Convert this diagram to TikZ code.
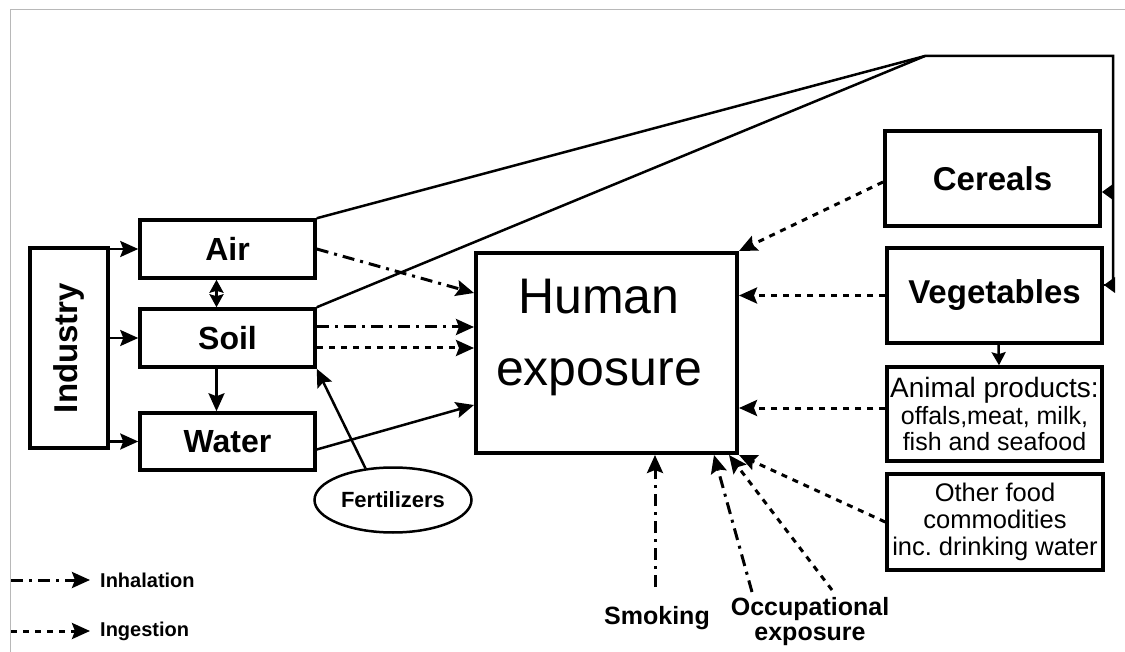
\documentclass[tikz,border=0pt]{standalone}
\usepackage{fontspec}
\setmainfont{Liberation Sans}
\usetikzlibrary{arrows.meta,shapes.geometric,calc}
\frenchspacing
\begin{document}
\begin{tikzpicture}[x=1pt,y=-1pt,
  >={Stealth[length=18pt,width=16pt,inset=3pt]},
  box/.style={draw, line width=3.5pt, inner sep=0pt, align=center},
  bigfont/.style={font=\bfseries\fontsize{33}{33}\selectfont},
  midfont/.style={font=\bfseries\fontsize{32}{32}\selectfont},
  conn/.style={line width=2.5pt, ->},
  plainline/.style={line width=2.5pt},
  inh/.style={line width=3pt, dash pattern=on 12pt off 6pt on 3pt off 6pt, ->},
  ing/.style={line width=3pt, dash pattern=on 6pt off 6pt, ->},
  headfill/.style={fill=black},
  frame/.style={draw=black!28, line width=1.5pt},
  lbl/.style={font=\bfseries\fontsize{25}{25}\selectfont, align=center, inner sep=0pt},
  leg/.style={font=\bfseries\fontsize{20}{20}\selectfont, inner sep=0pt, anchor=west}]
\useasboundingbox (0,0) rectangle (1125,652);
\fill[white] (0,0) rectangle (1125,652);
\draw[frame] (10.5,652) -- (10.5,9.5) -- (1125,9.5);

% left boxes
\node[box, bigfont, minimum width=78pt, minimum height=200pt] (Industry) at (69,348) {\rotatebox{90}{Industry}};
\node[box, midfont, minimum width=175pt, minimum height=58pt] (Air) at (227.5,249) {Air};
\node[box, midfont, minimum width=175pt, minimum height=58pt] (Soil) at (227.5,338) {Soil};
\node[box, midfont, minimum width=175pt, minimum height=57pt] (Water) at (227.5,441.5) {Water};

% centre
\node[box, line width=4pt, minimum width=261pt, minimum height=200pt] (Human) at (606.5,353) {};
\node[font=\fontsize{50}{72}\selectfont, align=center, inner sep=0pt] (HumanText) at (599,337) {Human\\exposure};

% right boxes
\node[box, bigfont, line width=4pt, minimum width=215pt, minimum height=95pt] (Cereals) at (992.5,179) {Cereals};
\node[box, bigfont, line width=4pt, minimum width=215pt, minimum height=95pt] (Vegetables) at (994.5,295.5) {Vegetables};
\node[box, minimum width=215pt, minimum height=94pt, font=\fontsize{25}{26}\selectfont] (Animal) at (994.5,414)
  {{\fontsize{28}{28}\selectfont Animal products:}\\[1pt]offals,meat, milk,\\fish and seafood};
\node[box, minimum width=216pt, minimum height=96pt, font=\fontsize{25.5}{27}\selectfont] (Other) at (995,522)
  {Other food\\commodities\\inc. drinking water};

\node[draw, ellipse, line width=2.5pt, minimum width=157pt, minimum height=65pt, inner sep=0pt,
  font=\bfseries\fontsize{22}{22}\selectfont] (Fert) at (393,500) {Fertilizers};

\node[lbl] (Smoking) at (657,618) {Smoking};
\node[lbl] (Occup) at (810,621.5) {Occupational\\exposure};

% Industry to compartments
\draw[conn] (Industry.east |- Air.west) -- (Air.west);
\draw[conn] (Industry.east |- Soil.west) -- (Soil.west);
\draw[conn] (Industry.east |- Water.west) -- (Water.west);
\draw[line width=2.5pt, {Stealth[length=13pt,width=14pt,inset=2pt]}-{Stealth[length=13pt,width=14pt,inset=2pt]}]
  ([xshift=-11pt]Air.south) -- ([xshift=-11pt]Soil.north);
\draw[conn] ([xshift=-11pt]Soil.south) -- ([xshift=-11pt]Water.north);

% long lines to crops
\coordinate (apex) at (925,56);
\coordinate (rt) at (1113,56);
\coordinate (c1) at (1113,192);
\coordinate (c2) at (1113,285);
\draw[plainline, line join=miter] (Air.north east) -- (apex) -- (rt) -- (c2);
\draw[plainline] (Soil.north east) -- (apex);
\coordinate (ct1) at (Cereals.east |- c1);
\coordinate (ct2) at (Vegetables.east |- c2);
\draw[plainline] (c2) -- (ct2);
\fill[headfill] (ct1) -- ([shift={(11pt,8pt)}]ct1) -- ([shift={(11pt,-8pt)}]ct1) -- cycle;
\fill[headfill] (ct2) -- ([shift={(11pt,8pt)}]ct2) -- ([shift={(11pt,-8pt)}]ct2) -- cycle;

% to human exposure from left
\draw[inh] (Air.east) -- ([yshift=-42pt]Human.north west);
\path ([yshift=11pt]Soil.east) coordinate (s1);
\path ([yshift=-10pt]Soil.east) coordinate (s2);
\draw[inh] (s1) -- (s1 -| Human.west);
\draw[ing] (s2) -- (s2 -| Human.west);
\draw[conn] ([yshift=-8pt]Water.east) -- ([yshift=-52pt]Human.west);
\draw[conn] (Fert.131) -- (Soil.south east);

% from right
\draw[ing] ([yshift=-3pt]Cereals.west) -- (Human.north east);
\draw[ing] (Vegetables.west) -- (Vegetables.west -| Human.east);
\path ([yshift=6pt]Animal.west) coordinate (a1);
\draw[ing] (a1) -- (a1 -| Human.east);
\draw[ing] (Other.west) -- (Human.south east);
\draw[line width=2.5pt, -{Stealth[length=13pt,width=14pt,inset=2pt]}] ([xshift=4pt]Vegetables.south) -- ([xshift=4.5pt]Animal.north);

% from below
\coordinate (smk) at (655,587);
\coordinate (oc1) at (752,592);
\coordinate (oc2) at (832,590);
\draw[inh] (smk) -- (smk |- Human.south);
\draw[inh] (oc1) -- ([xshift=-25pt]Human.south east);
\draw[ing] (oc2) -- ([xshift=-10pt]Human.south east);

% legend
\node[leg] (InhL) at (100,580) {Inhalation};
\node[leg] (IngL) at (100,631) {Ingestion};
\coordinate (li) at (11,580);
\coordinate (lg) at (11,631);
\draw[inh] (li) -- ([xshift=-10pt]InhL.west);
\draw[ing] (lg) -- ([xshift=-10pt]IngL.west);
\end{tikzpicture}
\end{document}
